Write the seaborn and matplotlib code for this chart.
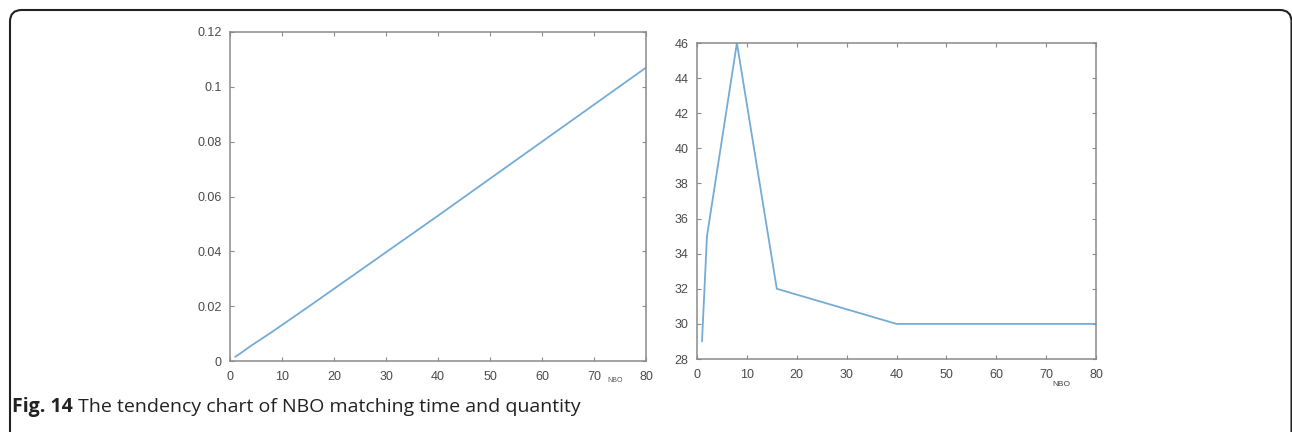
import matplotlib
matplotlib.use("Agg")
import matplotlib.pyplot as plt
import seaborn as sns
import pandas as pd
from matplotlib.patches import FancyBboxPatch

# ---- data ----
nbo_time = [1, 2, 4, 8, 16, 40, 80]
match_time = [0.0015, 0.0028, 0.0055, 0.0105, 0.021, 0.053, 0.107]

nbo_qty = [1, 2, 8, 16, 40, 80]
match_qty = [29, 35, 46, 32, 30, 30]

x_ticks = [0, 10, 20, 30, 40, 50, 60, 70, 80]
left_yticks = [0, 0.02, 0.04, 0.06, 0.08, 0.1, 0.12]
left_ylabels = ["0", "0.02", "0.04", "0.06", "0.08", "0.1", "0.12"]
right_yticks = [28, 30, 32, 34, 36, 38, 40, 42, 44, 46]

caption_bold = "Fig. 14"
caption_text = " The tendency chart of NBO matching time and quantity"

sns.set_style("ticks")
plt.rcParams["font.family"] = ["Liberation Sans", "DejaVu Sans"]

W, H = 1292, 432
fig = plt.figure(figsize=(W / 100, H / 100), dpi=100)

line_color = "#74acd6"
frame_color = "#8a8a8a"

def style(ax):
    ax.tick_params(direction="in", top=True, right=True, length=3, width=0.8,
                   colors=frame_color, labelcolor="#4a4a4a", labelsize=9)
    ax.tick_params(axis="x", pad=7)
    ax.tick_params(axis="y", pad=6)
    for s in ax.spines.values():
        s.set_color(frame_color)
        s.set_linewidth(1.1)
    ax.set_xlabel("")
    ax.set_ylabel("")
    ax.grid(False)

# left axes
ax1 = fig.add_axes([230 / W, 1 - 361 / H, (646 - 230) / W, (361 - 32) / H])
df1 = pd.DataFrame({"NBO": nbo_time, "time": match_time})
sns.lineplot(data=df1, x="NBO", y="time", ax=ax1, color=line_color, linewidth=1.3)
ax1.set_xlim(0, 80)
ax1.set_ylim(0, 0.12)
ax1.set_xticks(x_ticks)
ax1.set_yticks(left_yticks)
ax1.set_yticklabels(left_ylabels)
style(ax1)
ax1.text(74, -0.058, "NBO", fontsize=5, color="#555555", ha="center", va="center",
         transform=ax1.get_xaxis_transform())

# right axes
ax2 = fig.add_axes([697 / W, 1 - 359 / H, (1096 - 697) / W, (359 - 43) / H])
df2 = pd.DataFrame({"NBO": nbo_qty, "qty": match_qty})
sns.lineplot(data=df2, x="NBO", y="qty", ax=ax2, color=line_color, linewidth=1.3)
ax2.set_xlim(0, 80)
ax2.set_ylim(28, 46)
ax2.set_xticks(x_ticks)
ax2.set_yticks(right_yticks)
style(ax2)
ax2.text(73, -0.08, "NBO", fontsize=6, color="#444444", ha="center", va="center",
         transform=ax2.get_xaxis_transform())

# rounded border (bottom edge runs off the image)
border = FancyBboxPatch((10 / W, -0.2), (W - 10.5) / W, (H - 10) / H + 0.2,
                        boxstyle="round,pad=0,rounding_size=0.009",
                        transform=fig.transFigure, fill=False,
                        edgecolor="#222222", linewidth=1.5, mutation_aspect=W / H)
fig.patches.append(border)

# caption
fs = 14
t1 = fig.text(12 / W, 1 - 407 / H, caption_bold, fontsize=fs, fontweight="bold",
              color="#222222", ha="left", va="center",
              family=["Open Sans", "DejaVu Sans"])
fig.canvas.draw()
bb = t1.get_window_extent(renderer=fig.canvas.get_renderer())
fig.text(bb.x1 / W, 1 - 407 / H, caption_text, fontsize=fs, color="#222222",
         ha="left", va="center", family=["Open Sans", "DejaVu Sans"])

fig.savefig("out.png", dpi=100)
